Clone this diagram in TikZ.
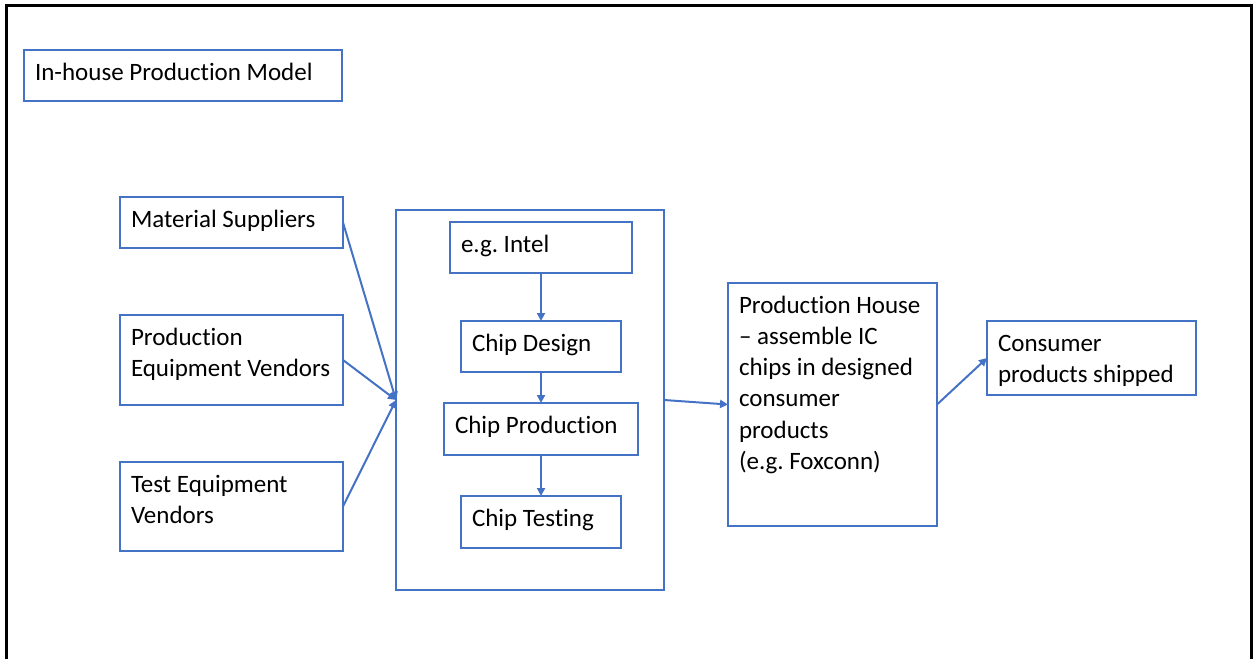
\documentclass[tikz,border=0pt]{standalone}
\usepackage{fontspec}
\setmainfont{Carlito}[Ligatures=CommonOff]
\usetikzlibrary{arrows.meta}
\definecolor{pblue}{HTML}{4472C4}
\frenchspacing
\tikzset{
  boxst/.style={draw=pblue, line width=2.4pt, rectangle, inner sep=0pt, outer sep=0pt},
  txt/.style={inner sep=0pt, outer sep=0pt, align=left, font=\fontsize{25}{31.3}\selectfont, text=black},
  conn/.style={draw=pblue, line width=2pt, -{Triangle[length=8pt,width=8pt]}},
}
\newcommand\mybox[6]{%
  \node[boxst, minimum width={#4-#2}, minimum height={#5-#3}] (#1) at ({(#2+#4)/2},{(#3+#5)/2}) {};
  \node[txt, anchor=north west] (#1t) at ([shift={(11,10)}]#1.north west) {\rule{0pt}{20pt}#6};
}
\begin{document}
\begin{tikzpicture}[x=1pt,y=-1pt]
\useasboundingbox (0,0) rectangle (1253,659);
% frame
\draw[line width=3pt, black] (6.5,659) -- (6.5,5) -- (1251.5,5) -- (1251.5,659);
\mybox{title}{24}{50}{342}{101}{In-house Production Model}
\mybox{ms}{120}{197}{343}{248}{Material Suppliers}
\mybox{pev}{120}{315}{343}{405}{Production\\Equipment Vendors}
\mybox{tev}{120}{462}{343}{551}{Test Equipment\\Vendors}
\mybox{big}{396}{210}{664}{590}{}
\mybox{intel}{450}{222}{632}{273}{e.g. Intel}
\mybox{design}{461}{321}{621}{372}{Chip Design}
\mybox{prod}{444}{403}{638}{455}{Chip Production}
\mybox{test}{461}{496}{621}{548}{Chip Testing}
\mybox{ph}{728}{283}{937}{526}{Production House\\– assemble IC\\chips in designed\\consumer\\products\\(e.g. Foxconn)}
\mybox{cons}{987}{321}{1196}{395}{Consumer\\products shipped}
% connectors
\draw[conn] (ms.east) -- (big.west);
\draw[conn] (pev.east) -- (big.west);
\draw[conn] (tev.east) -- (big.west);
\draw[conn] (intel.south) -- (design.north);
\draw[conn] (design.south) -- (prod.north);
\draw[conn] (prod.south) -- (test.north);
\draw[conn] (big.east) -- (ph.west);
\draw[conn] (ph.east) -- (cons.west);
\end{tikzpicture}
\end{document}
